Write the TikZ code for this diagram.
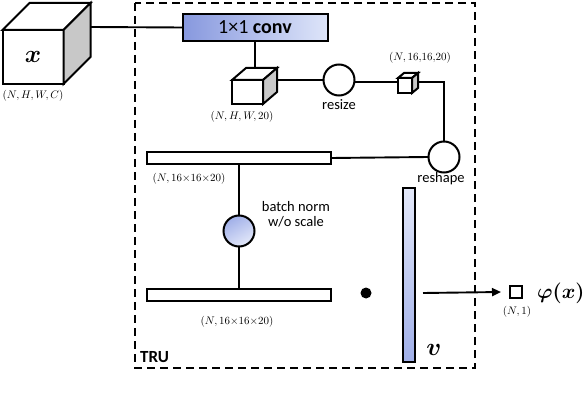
\documentclass[tikz,border=0pt]{standalone}
\usepackage{fontspec}
\setmainfont{Carlito}
\usepackage{amsmath,bm}
\usetikzlibrary{arrows.meta,calc}
\definecolor{convL}{RGB}{135,152,222}
\definecolor{convR}{RGB}{222,229,249}
\definecolor{bnA}{RGB}{160,175,232}
\definecolor{bnB}{RGB}{228,233,250}
\definecolor{sidegray}{RGB}{200,200,200}
\begin{document}
\begin{tikzpicture}[x=1pt,y=-1pt,line join=miter,
  face/.style={draw,line width=2pt,fill=white,outer sep=0pt,inner sep=0pt},
  sideface/.style={draw,line width=2pt,fill=sidegray},
  conn/.style={line width=1.9pt},
  dimlbl/.style={font=\fontsize{11}{12}\selectfont,inner sep=0pt},
  txt/.style={font=\fontsize{14.5}{16}\selectfont,inner sep=0pt,align=center},
  circ/.style={circle,draw,line width=2pt,minimum size=31pt,inner sep=0pt,outer sep=0pt},
  bar/.style={rectangle,draw,line width=2pt,fill=white,minimum width=184pt,minimum height=12pt,inner sep=0pt,outer sep=0pt}]
\useasboundingbox (0,0) rectangle (588,406);
% TRU dashed box
\draw[line width=2.2pt,dash pattern=on 8pt off 5pt] (135,3) rectangle (475,368);
\node[font=\fontsize{17}{19}\selectfont\bfseries,anchor=west,inner sep=0pt] (tru) at (140,357) {TRU};
% big input cube
\node[face,minimum width=61pt,minimum height=54pt] (xf) at (33,57) {\fontsize{27}{30}\selectfont$\bm{x}$};
\draw[face] (xf.north west) -- ++(27,-27) -- ++(61,0) -- (xf.north east) -- cycle;
\draw[sideface] (xf.north east) -- ++(27,-27) -- ++(0,54) -- (xf.south east) -- cycle;
\coordinate (xout) at ($(xf.north east)+(27,-3)$);
\node[dimlbl] (xdim) at (33,96) {$(N,H,W,C)$};
% conv box
\node[draw,line width=2pt,left color=convL,right color=convR,minimum width=145pt,minimum height=27pt,inner sep=0pt,outer sep=0pt,font=\fontsize{20}{22}\selectfont] (conv) at (255,27.5) {1×1 \textbf{conv}};
\draw[conn] (xout) -- (conv.west);
% small cube
\node[face,minimum width=31pt,minimum height=24pt] (scf) at (247.5,92) {};
\draw[face] (scf.north west) -- ++(14,-12) -- ++(31,0) -- (scf.north east) -- cycle;
\draw[sideface] (scf.north east) -- ++(14,-12) -- ++(0,24) -- (scf.south east) -- cycle;
\coordinate (sctop) at (254,68);
\coordinate (scout) at ($(scf.east)+(14,-12)$);
\node[dimlbl] (scdim) at (242,117) {$(N,H,W,20)$};
\draw[conn] (conv.south) -- (conv.south |- sctop);
% resize
\node[circ,fill=white] (rs) at (339,80) {};
\node[txt,anchor=north] (rslbl) at (339,99) {resize};
\draw[conn] (scout) -- (rs.west);
% tiny cube
\node[face,minimum width=14pt,minimum height=15pt] (tcf) at (405,85.5) {};
\draw[face] (tcf.north west) -- ++(6,-5) -- ++(14,0) -- (tcf.north east) -- cycle;
\draw[sideface] (tcf.north east) -- ++(6,-5) -- ++(0,15) -- (tcf.south east) -- cycle;
\node[dimlbl] (tcdim) at (420,58) {$(N,16{,}16{,}20)$};
\coordinate (tcin) at (398,82);
\coordinate (tcout) at (418,82);
\draw[conn] (rs.east |- tcin) -- (tcin);
% reshape
\node[circ,fill=white] (rsh) at (444,157) {};
\node[txt,anchor=north] (rshlbl) at (441,172) {reshape};
\draw[conn] (tcout) -- (tcout -| rsh.north) -- (rsh.north);
% bar 1
\node[bar] (b1) at (239,158) {};
\node[dimlbl] (b1dim) at (189,179) {$(N,16{\times}16{\times}20)$};
\draw[conn] (rsh.west) -- (b1.east);
% batch norm
\node[circ,top color=bnA,bottom color=bnB,shading angle=30] (bn) at (239,231) {};
\node[txt] (bnlbl) at (296,214) {batch norm\\[-1pt]w/o scale};
\draw[conn] (b1.south) -- (bn.north);
% bar 2
\node[bar] (b2) at (239,294.5) {};
\node[dimlbl] (b2dim) at (237,322) {$(N,16{\times}16{\times}20)$};
\draw[conn] (bn.south) -- (b2.north);
% dot
\node[circle,fill=black,minimum size=11pt,inner sep=0pt] (dot) at (366,293) {};
% v bar
\node[draw,line width=2pt,top color=bnB,bottom color=bnA,minimum width=12pt,minimum height=174pt,inner sep=0pt,outer sep=0pt] (vb) at (409,275) {};
\node[font=\fontsize{25}{28}\selectfont,inner sep=0pt] (vlbl) at (434,350) {$\bm{v}$};
% output
\coordinate (arrst) at (423,293);
\node[draw,line width=1.8pt,minimum size=12pt,inner sep=0pt,outer sep=0pt] (out) at (516,292) {};
\draw[conn,-{Triangle[length=9pt,width=8pt]}] (arrst) -- ($(out.west)+(-9,0)$);
\node[dimlbl] (outdim) at (517,312) {$(N,1)$};
\node[font=\fontsize{21.5}{25}\selectfont,inner sep=0pt,anchor=west] (phi) at (537,293) {$\bm{\varphi}\bm{(}\bm{x}\bm{)}$};
\end{tikzpicture}
\end{document}
